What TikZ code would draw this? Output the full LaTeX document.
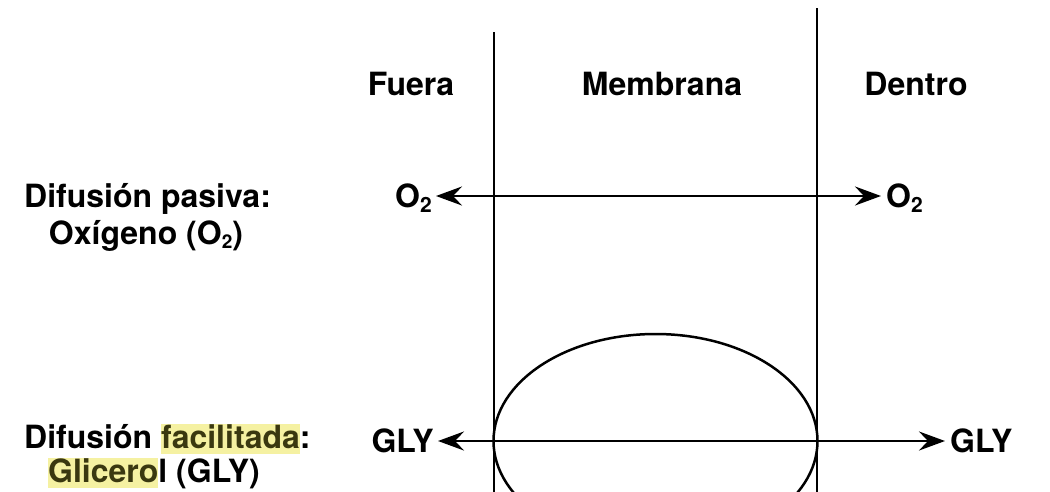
\documentclass[tikz,border=0pt]{standalone}
\usepackage{fontspec}
\setmainfont{TeX Gyre Heros}
\usetikzlibrary{arrows.meta,calc}
\definecolor{hlback}{HTML}{F5F1A2}
\definecolor{hltext}{HTML}{3A3810}
% highlighter-marker effect behind a word
\newcommand\hlword[1]{{\setlength{\fboxsep}{0pt}\colorbox{hlback}{\rule[-6pt]{0pt}{29pt}\color{hltext}#1}}}
\newcommand\subtwo{\raisebox{-0.3ex}{\fontsize{21}{21}\selectfont 2}}
\newcommand\subsmall{\raisebox{-0.25ex}{\fontsize{19}{19}\selectfont 2}}
\tikzset{
  lbl/.style={font=\fontsize{32}{38}\selectfont\bfseries, inner sep=0pt, text=black},
  wall/.style={line width=2.8pt, draw=black},
  flux/.style={line width=2.8pt,
    {Stealth[length=26pt,width=19pt,inset=9pt]}-{Stealth[length=26pt,width=19pt,inset=9pt]}}
}
\begin{document}
\begin{tikzpicture}[x=1pt,y=-1pt]
\useasboundingbox (0,0) rectangle (1050,491);
\fill[white] (0,0) rectangle (1050,491);
\clip (0,0) rectangle (1050,491);

% membrane walls
\coordinate (wlt) at (494,32);
\coordinate (wlb) at (494,495);
\coordinate (wrt) at (817,8);
\coordinate (wrb) at (817,495);
\draw[wall] (wlt) -- (wlb);
\draw[wall] (wrt) -- (wrb);

% carrier protein spanning the membrane
\draw[line width=2.5pt] (655.5,441) ellipse [x radius=162, y radius=107];

% column headers
\node[lbl, anchor=base] (fuera) at (411,95) {Fuera};
\node[lbl, anchor=base] (memb) at (662,95) {Membrana};
\node[lbl, anchor=base] (dentro) at (916,95) {Dentro};

% row labels
\node[lbl, anchor=base west] (pas1) at (24,207) {Difusión pasiva:};
\node[lbl, anchor=base] (pas2) at (146,244) {Oxígeno (O\subsmall)};
\node[lbl, anchor=base west] (fac1) at (24,448) {Difusión \hlword{facilitada}:};
\node[lbl, anchor=base] (fac2) at (154,482) {\hlword{Glicero}l (GLY)};

% passive diffusion of oxygen
\node[lbl, anchor=base east] (o2out) at (432,207) {O\subtwo};
\node[lbl, anchor=base west] (o2in) at (886,207) {O\subtwo};
\draw[flux] ($(o2out.base east)+(4,-11)$) -- ($(o2in.base west)+(-5,-11)$);

% facilitated diffusion of glycerol
\node[lbl, anchor=base east] (glyout) at (434,452) {GLY};
\node[lbl, anchor=base west] (glyin) at (950,452) {GLY};
\draw[flux] ($(glyout.base east)+(4,-11)$) -- ($(glyin.base west)+(-5,-11)$);
\end{tikzpicture}
\end{document}
